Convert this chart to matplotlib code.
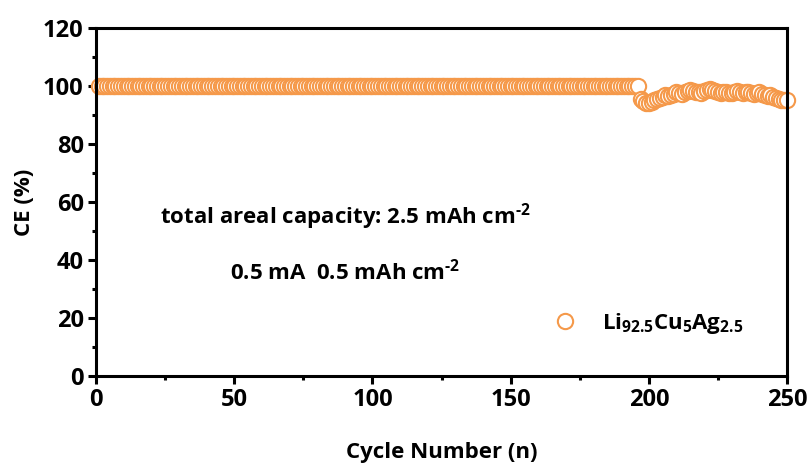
import numpy as np
import matplotlib.pyplot as plt
from matplotlib.ticker import MultipleLocator

plt.rcParams['font.family'] = ['Open Sans', 'DejaVu Sans']
plt.rcParams['font.weight'] = 'bold'
plt.rcParams['mathtext.fontset'] = 'custom'
plt.rcParams['mathtext.rm'] = 'Open Sans:bold'
plt.rcParams['mathtext.bf'] = 'Open Sans:bold'
plt.rcParams['mathtext.it'] = 'Open Sans:bold'
plt.rcParams['mathtext.default'] = 'bf'

# coulombic efficiency per cycle
stable_cycles = np.arange(1, 197)
stable_ce = [100.0] * len(stable_cycles)
late_cycles = np.arange(197, 251)
late_ce = [95.5, 94.8, 94.2, 94.0, 94.5, 95.0, 95.5, 96.0, 96.3, 96.8,
           96.5, 97.0, 97.3, 97.8, 97.5, 97.2, 98.0, 98.3, 98.6, 98.2,
           97.8, 98.0, 97.6, 98.2, 98.5, 98.8, 98.6, 98.2, 97.8, 97.5,
           97.9, 98.1, 97.7, 97.6, 98.0, 98.3, 97.9, 97.5, 97.8, 98.1,
           97.6, 97.2, 97.5, 97.8, 97.3, 96.8, 96.5, 97.0, 96.3, 95.8,
           95.5, 95.2, 95.0, 95.2]

cycles = np.concatenate([stable_cycles, late_cycles])
ce = np.concatenate([stable_ce, late_ce])

orange = '#F5994A'

fig = plt.figure(figsize=(8.08, 4.63), dpi=100)
ax = fig.add_axes([0.119, 0.188, 0.855, 0.7515])

ax.plot(cycles, ce, 'o', ms=11, mfc='white', mec=orange, mew=1.5,
        label=r'Li$_{92.5}$Cu$_5$Ag$_{2.5}$', clip_on=False)

ax.set_xlim(0, 250)
ax.set_ylim(0, 120)
ax.xaxis.set_major_locator(MultipleLocator(50))
ax.xaxis.set_minor_locator(MultipleLocator(25))
ax.yaxis.set_major_locator(MultipleLocator(20))
ax.yaxis.set_minor_locator(MultipleLocator(10))

for s in ax.spines.values():
    s.set_linewidth(2.2)
ax.tick_params(which='major', direction='out', length=6, width=2.2,
               labelsize=17, pad=3)
ax.tick_params(which='minor', direction='out', length=3, width=2.2)
for lab in ax.get_xticklabels() + ax.get_yticklabels():
    lab.set_fontweight('bold')

ax.set_xlabel('Cycle Number (n)', fontsize=16, fontweight='bold', labelpad=21)
ax.set_ylabel('CE (%)', fontsize=16, fontweight='bold', labelpad=6)

ax.text(23, 55, r'total areal capacity: 2.5 mAh cm$^{\text{-2}}$', fontsize=16,
        fontweight='bold', va='center')
ax.text(48.5, 36, r'0.5 mA  0.5 mAh cm$^{\text{-2}}$', fontsize=16,
        fontweight='bold', va='center')

ax.legend(loc='center left', bbox_to_anchor=(0.618, 0.152), frameon=False,
          handletextpad=0.65, markerscale=1.0,
          prop={'weight': 'bold', 'size': 16})

fig.savefig('out.png', dpi=100)
